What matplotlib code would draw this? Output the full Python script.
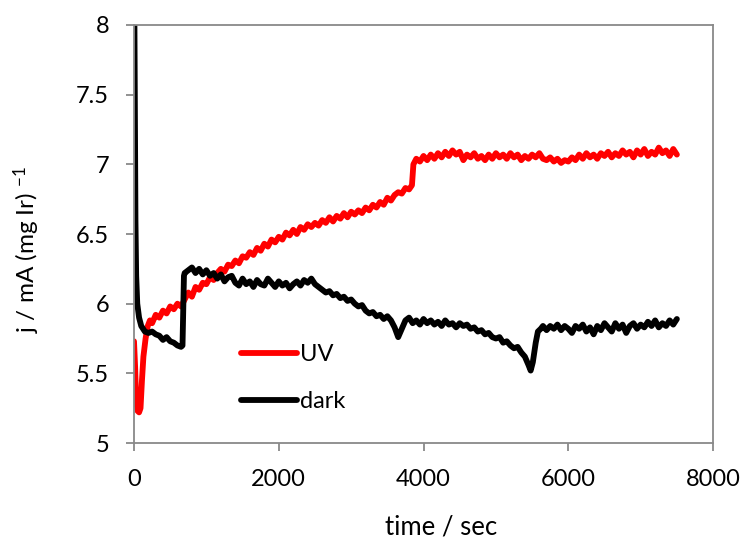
import matplotlib
matplotlib.use("Agg")
import matplotlib.pyplot as plt

plt.rcParams['font.family'] = ['Lato', 'DejaVu Sans']
plt.rcParams['mathtext.default'] = 'regular'

# dark run (black)
dark_t = [0, 10, 20, 30, 45, 70, 100, 150, 200, 250, 300, 350, 400, 450, 500, 550, 600, 650, 670,
          690, 700, 750, 800, 850, 900, 950, 1000, 1050, 1100, 1150, 1200, 1250, 1300, 1350, 1400,
          1450, 1500, 1550, 1600, 1650, 1700, 1750, 1800, 1850, 1900, 1950, 2000, 2050, 2100, 2150,
          2200, 2250, 2300, 2350, 2400, 2450, 2500, 2550, 2600, 2650, 2700, 2750, 2800, 2850, 2900,
          2950, 3000, 3050, 3100, 3150, 3200, 3250, 3300, 3350, 3400, 3450, 3500, 3550, 3600, 3650,
          3700, 3750, 3800, 3850, 3900, 3950, 4000, 4050, 4100, 4150, 4200, 4250, 4300, 4350, 4400,
          4450, 4500, 4550, 4600, 4650, 4700, 4750, 4800, 4850, 4900, 4950, 5000, 5050, 5100, 5150,
          5200, 5250, 5300, 5350, 5400, 5450, 5480, 5510, 5550, 5580, 5620, 5650, 5700, 5750, 5800,
          5850, 5900, 5950, 6000, 6050, 6100, 6150, 6200, 6250, 6300, 6350, 6400, 6450, 6500, 6550,
          6600, 6650, 6700, 6750, 6800, 6850, 6900, 6950, 7000, 7050, 7100, 7150, 7200, 7250, 7300,
          7350, 7400, 7450, 7500]
dark_j = [8.6, 7.6, 6.6, 6.2, 6.0, 5.9, 5.84, 5.80, 5.79, 5.80, 5.78, 5.77, 5.74, 5.76, 5.73, 5.72, 5.70, 5.69, 5.70,
          6.20, 6.22, 6.24, 6.26, 6.22, 6.25, 6.21, 6.24, 6.20, 6.22, 6.18, 6.21, 6.16, 6.19, 6.20, 6.15,
          6.13, 6.18, 6.14, 6.16, 6.12, 6.17, 6.14, 6.13, 6.18, 6.15, 6.12, 6.16, 6.13, 6.15, 6.11,
          6.14, 6.16, 6.13, 6.17, 6.15, 6.18, 6.14, 6.12, 6.10, 6.08, 6.09, 6.06, 6.07, 6.04, 6.05,
          6.02, 6.03, 6.00, 5.98, 5.99, 5.95, 5.93, 5.94, 5.91, 5.92, 5.89, 5.91, 5.88, 5.83, 5.76,
          5.82, 5.88, 5.90, 5.86, 5.88, 5.85, 5.89, 5.86, 5.88, 5.85, 5.87, 5.84, 5.88, 5.85, 5.86,
          5.83, 5.86, 5.84, 5.85, 5.82, 5.83, 5.80, 5.81, 5.78, 5.79, 5.76, 5.75, 5.76, 5.72, 5.73,
          5.70, 5.68, 5.69, 5.65, 5.62, 5.56, 5.52, 5.58, 5.72, 5.80, 5.82, 5.84, 5.81, 5.84, 5.82,
          5.85, 5.81, 5.84, 5.82, 5.79, 5.84, 5.82, 5.85, 5.80, 5.83, 5.78, 5.84, 5.81, 5.86, 5.83,
          5.80, 5.86, 5.82, 5.85, 5.79, 5.84, 5.86, 5.82, 5.85, 5.83, 5.87, 5.84, 5.88, 5.83, 5.86,
          5.84, 5.88, 5.85, 5.89]

# UV run (red)
uv_t = [0, 15, 30, 50, 70, 90, 110, 130, 160, 190, 220, 250, 300, 350, 400, 450, 500, 550, 600, 650,
        700, 750, 800, 850, 900, 950, 1000, 1050, 1100, 1150, 1200, 1250, 1300, 1350, 1400, 1450,
        1500, 1550, 1600, 1650, 1700, 1750, 1800, 1850, 1900, 1950, 2000, 2050, 2100, 2150, 2200,
        2250, 2300, 2350, 2400, 2450, 2500, 2550, 2600, 2650, 2700, 2750, 2800, 2850, 2900, 2950,
        3000, 3050, 3100, 3150, 3200, 3250, 3300, 3350, 3400, 3450, 3500, 3550, 3600, 3650, 3700,
        3750, 3800, 3840, 3860, 3900, 3950, 4000, 4050, 4100, 4150, 4200, 4250, 4300, 4350, 4400,
        4450, 4500, 4550, 4600, 4650, 4700, 4750, 4800, 4850, 4900, 4950, 5000, 5050, 5100, 5150,
        5200, 5250, 5300, 5350, 5400, 5450, 5500, 5550, 5600, 5650, 5700, 5750, 5800, 5850, 5900,
        5950, 6000, 6050, 6100, 6150, 6200, 6250, 6300, 6350, 6400, 6450, 6500, 6550, 6600, 6650,
        6700, 6750, 6800, 6850, 6900, 6950, 7000, 7050, 7100, 7150, 7200, 7250, 7300, 7350, 7400,
        7450, 7500]
uv_j = [5.73, 5.55, 5.30, 5.23, 5.22, 5.25, 5.45, 5.62, 5.75, 5.84, 5.88, 5.86, 5.92, 5.90, 5.95, 5.93, 5.98, 5.96, 6.00, 5.98,
        6.03, 6.08, 6.05, 6.12, 6.10, 6.15, 6.14, 6.19, 6.17, 6.22, 6.25, 6.23, 6.28, 6.27, 6.31, 6.29,
        6.34, 6.33, 6.37, 6.35, 6.40, 6.38, 6.43, 6.41, 6.46, 6.44, 6.48, 6.46, 6.51, 6.49, 6.53,
        6.50, 6.55, 6.53, 6.57, 6.55, 6.58, 6.56, 6.60, 6.58, 6.62, 6.59, 6.63, 6.61, 6.65, 6.62,
        6.66, 6.64, 6.67, 6.65, 6.69, 6.67, 6.71, 6.69, 6.73, 6.71, 6.76, 6.74, 6.78, 6.80, 6.79,
        6.83, 6.82, 6.85, 7.00, 7.04, 7.02, 7.06, 7.03, 7.07, 7.04, 7.08, 7.05, 7.09, 7.06, 7.10,
        7.07, 7.09, 7.03, 7.07, 7.05, 7.08, 7.04, 7.06, 7.03, 7.07, 7.04, 7.08, 7.05, 7.07, 7.04,
        7.08, 7.05, 7.07, 7.03, 7.06, 7.04, 7.07, 7.05, 7.08, 7.04, 7.03, 7.05, 7.02, 7.04, 7.01,
        7.03, 7.02, 7.05, 7.03, 7.07, 7.04, 7.08, 7.05, 7.07, 7.04, 7.08, 7.06, 7.09, 7.05, 7.08,
        7.06, 7.10, 7.07, 7.09, 7.05, 7.10, 7.07, 7.11, 7.06, 7.09, 7.07, 7.12, 7.08, 7.10, 7.06,
        7.11, 7.07]

xticks = [0, 2000, 4000, 6000, 8000]
yticks = [5, 5.5, 6, 6.5, 7, 7.5, 8]
ytick_labels = ['5', '5.5', '6', '6.5', '7', '7.5', '8']

grey = '#898989'

fig = plt.figure(figsize=(7.42, 5.41), dpi=100)
ax = fig.add_axes([0.1806, 0.1811, 0.7804, 0.7727])

ax.plot(uv_t, uv_j, color='#ff0000', lw=4.2, label='UV',
        solid_joinstyle='round', solid_capstyle='round')
ax.plot(dark_t, dark_j, color='black', lw=4.2, label='dark',
        solid_joinstyle='round', solid_capstyle='round')

ax.set_xlim(0, 8000)
ax.set_ylim(5, 8)
ax.set_xticks(xticks)
ax.set_yticks(yticks)
ax.set_yticklabels(ytick_labels)

for s in ax.spines.values():
    s.set_color(grey)
    s.set_linewidth(1.3)
ax.tick_params(axis='both', direction='out', length=6, width=1.3, color=grey,
               labelsize=17)
ax.tick_params(axis='x', pad=13)
ax.tick_params(axis='y', pad=12)

ax.set_xlabel('time / sec', fontsize=18.5)
ax.set_ylabel('j / mA (mg Ir) $^{-1}$', fontsize=17.5)
ax.xaxis.set_label_coords(0.531, -0.172)
ax.yaxis.set_label_coords(-0.159, 0.463)

leg = ax.legend(loc='upper left', bbox_to_anchor=(0.169, 0.259), frameon=False,
                fontsize=17, handlelength=2.37, handletextpad=0.1, labelspacing=1.1,
                borderaxespad=0)

fig.savefig('out.png', dpi=100)
